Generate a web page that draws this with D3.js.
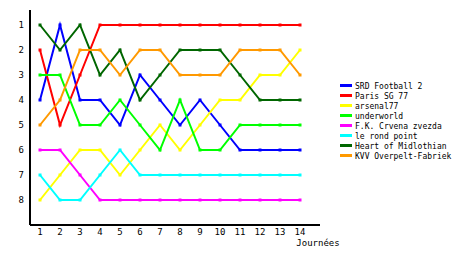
<!DOCTYPE html>
<html>
<head>
<meta charset="utf-8">
<script src="https://d3js.org/d3.v7.min.js"></script>
<style>
body { margin: 0; background: #fff; }
text { font-family: "DejaVu Sans Mono", monospace; font-size: 9px; fill: #000; }
.legend text { font-size: 8px; }
</style>
</head>
<body>
<div id="chart"></div>
<script>
// data: rank of each team per matchday
var days = [1,2,3,4,5,6,7,8,9,10,11,12,13,14];
var ranks = [1,2,3,4,5,6,7,8];
var teams = ["SRD Football 2","Paris SG 77","arsenal77","underworld","F.K. Crvena zvezda","le rond point","Heart of Midlothian","KVV Overpelt-Fabriek"];
var colors = ["#0000ff","#ff0000","#ffff00","#00ff00","#ff00ff","#00ffff","#006600","#ff9900"];
var srd        = [4,1,4,4,5,3,4,5,4,5,6,6,6,6];
var paris      = [2,5,3,1,1,1,1,1,1,1,1,1,1,1];
var arsenal    = [8,7,6,6,7,6,5,6,5,4,4,3,3,2];
var underworld = [3,3,5,5,4,5,6,4,6,6,5,5,5,5];
var crvena     = [6,6,7,8,8,8,8,8,8,8,8,8,8,8];
var rondpoint  = [7,8,8,7,6,7,7,7,7,7,7,7,7,7];
var hearts     = [1,2,1,3,2,4,3,2,2,2,3,4,4,4];
var kvv        = [5,4,2,2,3,2,2,3,3,3,2,2,2,3];
var series = [srd, paris, arsenal, underworld, crvena, rondpoint, hearts, kvv];

var width = 460, height = 255;

var svg = d3.select("#chart")
  .append("svg")
    .attr("width", width)
    .attr("height", height)

// scales
var x = d3.scaleLinear().domain([0.5, 15]).range([30, 320]);
var y = d3.scaleLinear().domain([0.4, 9]).range([10, 225]);

// axes lines
svg.append("line")
  .attr("x1", x(0.5)).attr("x2", x(0.5))
  .attr("y1", y(0.4)).attr("y2", y(9))
  .attr("stroke", "#000").attr("stroke-width", 2);
svg.append("line")
  .attr("x1", x(0.5)).attr("x2", x(15))
  .attr("y1", y(9)).attr("y2", y(9))
  .attr("stroke", "#000").attr("stroke-width", 2);

// tick labels
svg.selectAll(".ylab")
  .data(ranks)
  .enter()
  .append("text")
    .attr("x", 24)
    .attr("y", function(d){ return y(d) + 3 })
    .attr("text-anchor", "end")
    .text(function(d){ return d });

svg.selectAll(".xlab")
  .data(days)
  .enter()
  .append("text")
    .attr("x", function(d){ return x(d) })
    .attr("y", 235)
    .attr("text-anchor", "middle")
    .text(function(d){ return d });

svg.append("text")
  .attr("x", 318)
  .attr("y", 246)
  .attr("text-anchor", "middle")
  .text("Journées");

// lines and markers
var line = d3.line()
  .x(function(d, i){ return x(days[i]) })
  .y(function(d){ return y(d) });

series.forEach(function(s, k){
  svg.append("path")
    .datum(s)
    .attr("d", line)
    .attr("fill", "none")
    .attr("stroke", colors[k])
    .attr("stroke-width", 2);
  svg.selectAll(".m" + k)
    .data(s)
    .enter()
    .append("rect")
      .attr("x", function(d, i){ return x(days[i]) - 1.5 })
      .attr("y", function(d){ return y(d) - 1.5 })
      .attr("width", 3)
      .attr("height", 3)
      .attr("fill", colors[k]);
});

// legend
var legend = svg.append("g").attr("class", "legend");
teams.forEach(function(t, k){
  legend.append("rect")
    .attr("x", 340).attr("y", 84 + k * 10)
    .attr("width", 12).attr("height", 3)
    .attr("fill", colors[k]);
  legend.append("text")
    .attr("x", 355).attr("y", 89 + k * 10)
    .text(t);
});
</script>
</body>
</html>
